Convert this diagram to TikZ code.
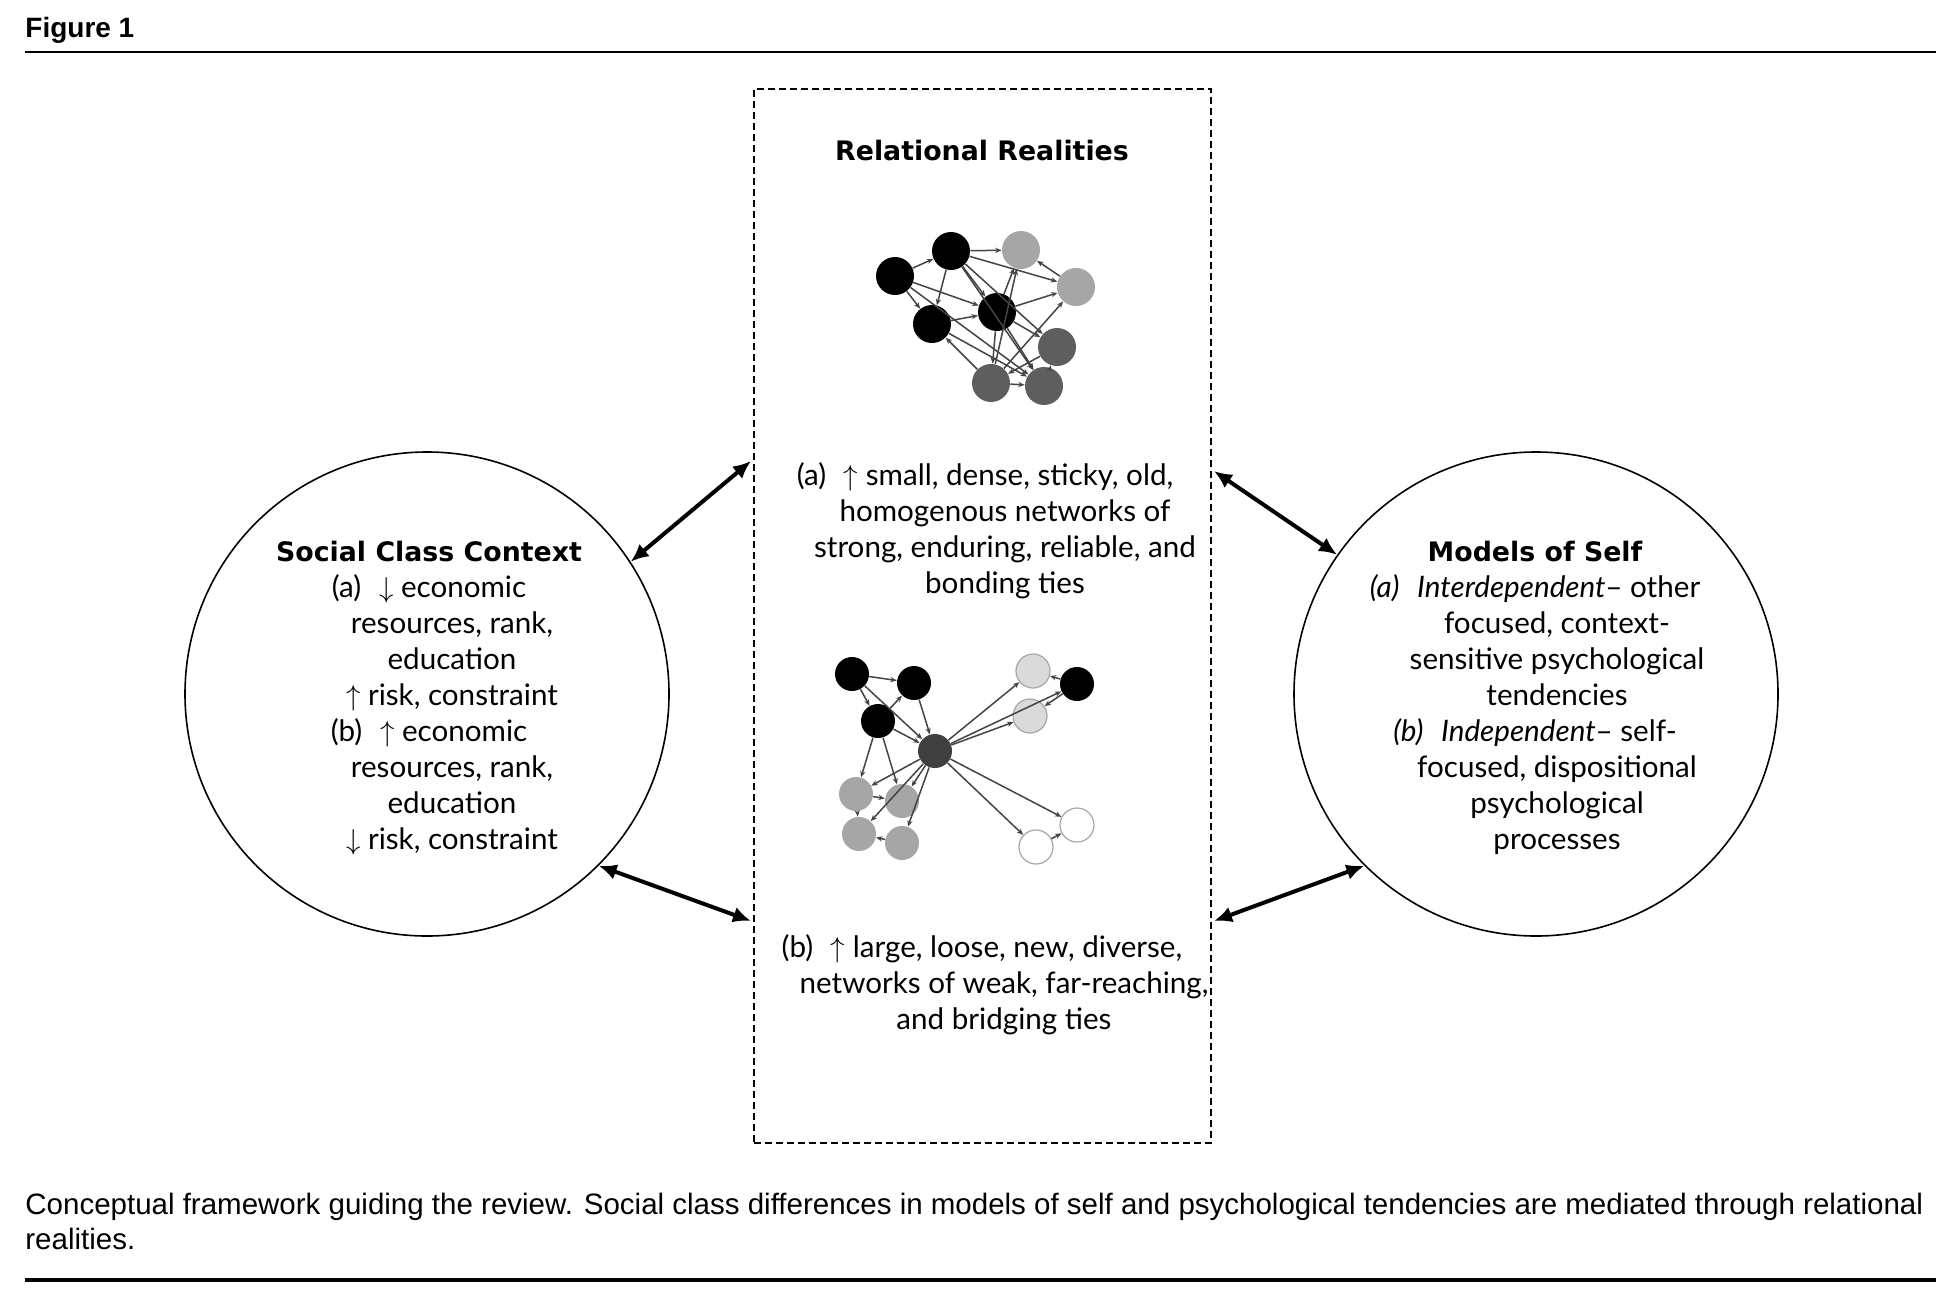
\documentclass[tikz,border=0pt]{standalone}
\usepackage{fontspec}
\setmainfont{Lato}
\newfontfamily\headfont{DejaVu Sans}
\newfontfamily\capfont{Liberation Sans}
\usetikzlibrary{arrows.meta}
\definecolor{nlgray}{HTML}{A6A6A6}
\definecolor{ndgray}{HTML}{5E5E5E}
\definecolor{ncenter}{HTML}{404040}
\definecolor{nvlight}{HTML}{DADADA}
\definecolor{nedge}{HTML}{444444}
\begin{document}
\begin{tikzpicture}[x=0.5pt,y=-0.5pt,
  body/.style={anchor=base, inner sep=0pt, font=\fontsize{14.8}{18}\selectfont},
  head/.style={anchor=base, inner sep=0pt, font=\headfont\bfseries\fontsize{13.4}{16}\selectfont},
  capt/.style={anchor=base west, inner sep=0pt, font=\capfont\fontsize{14.75}{18}\selectfont},
  bigcirc/.style={circle, draw, line width=0.8pt, minimum size=242pt, inner sep=0pt},
  dbl/.style={{Latex[length=9pt,width=8pt]}-{Latex[length=9pt,width=8pt]}, line width=2pt},
  edge/.style={-{Stealth[length=3.2pt,width=2.6pt]}, line width=0.75pt, draw=nedge},
  na/.style={circle, inner sep=0pt, minimum size=19pt},
  nb/.style={circle, inner sep=0pt, minimum size=17pt},
]
\fill[white] (0,0) rectangle (1952,1290);
\useasboundingbox (0,0) rectangle (1952,1290);

% header and rules
\node[anchor=base west, inner sep=0pt, font=\capfont\bfseries\fontsize{14}{16}\selectfont] (fig) at (25,37) {Figure 1};
\coordinate (r1a) at (25,52); \coordinate (r1b) at (1936,52);
\draw[line width=1.3pt] (r1a) -- (r1b);
\coordinate (r2a) at (25,1280); \coordinate (r2b) at (1936,1280);
\draw[line width=2pt] (r2a) -- (r2b);

% caption
\node[capt] (cap1) at (25,1214) {Conceptual framework guiding the review. Social class differences in models of self and psychological tendencies are mediated through relational};
\node[capt] (cap2) at (25,1249) {realities.};

% main shapes
\node[bigcirc] (sc) at (427,694) {};
\node[bigcirc] (ms) at (1536,694) {};
\node[draw, dash pattern=on 3.5pt off 2pt, line width=1.1pt, minimum width=228.5pt, minimum height=527pt, inner sep=0pt] (rr) at (982.5,616) {};

% connectors
\coordinate (p1) at (751,461);
\coordinate (p2) at (751,921);
\coordinate (p3) at (1214,471);
\coordinate (p4) at (1214,921);
\draw[dbl] (sc.33) -- (p1);
\draw[dbl] (sc.-45) -- (p2);
\draw[dbl] (ms.145) -- (p3);
\draw[dbl] (ms.-135) -- (p4);

% left circle text
\node[head] (sct) at (429,561) {Social Class Context};
\node[body] (sc1) at (429,597) {(a)\hspace{0.6em}$\downarrow$ economic};
\node[body] (sc2) at (452,633) {resources, rank,};
\node[body] (sc3) at (452,669) {education};
\node[body] (sc4) at (452,705) {$\uparrow$ risk, constraint};
\node[body] (sc5) at (429,741) {(b)\hspace{0.6em}$\uparrow$ economic};
\node[body] (sc6) at (452,777) {resources, rank,};
\node[body] (sc7) at (452,813) {education};
\node[body] (sc8) at (452,849) {$\downarrow$ risk, constraint};

% right circle text
\node[head] (mst) at (1535,561) {Models of Self};
\node[body] (ms1) at (1535,597) {\textit{(a)\hspace{0.6em}Interdependent}-- other};
\node[body] (ms2) at (1557,633) {focused, context-};
\node[body] (ms3) at (1557,669) {sensitive psychological};
\node[body] (ms4) at (1557,705) {tendencies};
\node[body] (ms5) at (1535,741) {\textit{(b)\hspace{0.6em}Independent}-- self-};
\node[body] (ms6) at (1557,777) {focused, dispositional};
\node[body] (ms7) at (1557,813) {psychological};
\node[body] (ms8) at (1557,849) {processes};

% middle text
\node[head] (rrt) at (982,160) {Relational Realities};
\node[body] (ra1) at (985,485) {(a)\hspace{0.6em}$\uparrow$ small, dense, sticky, old,};
\node[body] (ra2) at (1005,521) {homogenous networks of};
\node[body] (ra3) at (1005,557) {strong, enduring, reliable, and};
\node[body] (ra4) at (1005,593) {bonding ties};
\node[body] (rb1) at (982,957) {(b)\hspace{0.6em}$\uparrow$ large, loose, new, diverse,};
\node[body] (rb2) at (1004,993) {networks of weak, far-reaching,};
\node[body] (rb3) at (1004,1029) {and bridging ties};

% network (a)
\node[na, fill=black] (A1) at (895,276) {};
\node[na, fill=black] (A2) at (951,251) {};
\node[na, fill=nlgray] (A3) at (1021,250) {};
\node[na, fill=nlgray] (A4) at (1076,287) {};
\node[na, fill=black] (A5) at (932,324) {};
\node[na, fill=black] (A6) at (997,312) {};
\node[na, fill=ndgray] (A7) at (1057,347) {};
\node[na, fill=ndgray] (A8) at (991,383) {};
\node[na, fill=ndgray] (A9) at (1044,386) {};
\foreach \s/\t in {A1/A2, A2/A3, A1/A5, A1/A6, A1/A9, A2/A5, A2/A6, A2/A4, A2/A9,
  A5/A6, A5/A9, A8/A5, A6/A3, A6/A4, A6/A7, A6/A8, A6/A9, A4/A3, A8/A3, A7/A8,
  A9/A7, A8/A4, A8/A9, A2/A7}
  \draw[edge] (\s) -- (\t);

% network (b)
\node[nb, fill=black] (B1) at (852,674) {};
\node[nb, fill=black] (B2) at (914,683) {};
\node[nb, fill=black] (B3) at (878,721) {};
\node[nb, fill=ncenter] (B4) at (935,751) {};
\node[nb, fill=nvlight, draw=nlgray, line width=0.6pt] (B5) at (1033,671) {};
\node[nb, fill=black] (B6) at (1077,684) {};
\node[nb, fill=nvlight, draw=nlgray, line width=0.6pt] (B7) at (1030,716) {};
\node[nb, fill=nlgray] (B8) at (856,794) {};
\node[nb, fill=nlgray] (B9) at (902,801) {};
\node[nb, fill=nlgray] (B10) at (859,834) {};
\node[nb, fill=nlgray] (B11) at (902,843) {};
\node[nb, fill=white, draw=nlgray, line width=0.6pt] (B12) at (1077,825) {};
\node[nb, fill=white, draw=nlgray, line width=0.6pt] (B13) at (1036,847) {};
\foreach \s/\t in {B1/B2, B1/B3, B1/B4, B3/B2, B2/B4, B3/B4, B3/B8, B3/B9, B4/B8,
  B4/B10, B4/B9, B4/B11, B8/B9, B8/B10, B11/B10, B4/B5, B4/B6, B4/B7, B6/B5,
  B6/B7, B4/B12, B4/B13, B13/B12}
  \draw[edge] (\s) -- (\t);
\end{tikzpicture}
\end{document}
